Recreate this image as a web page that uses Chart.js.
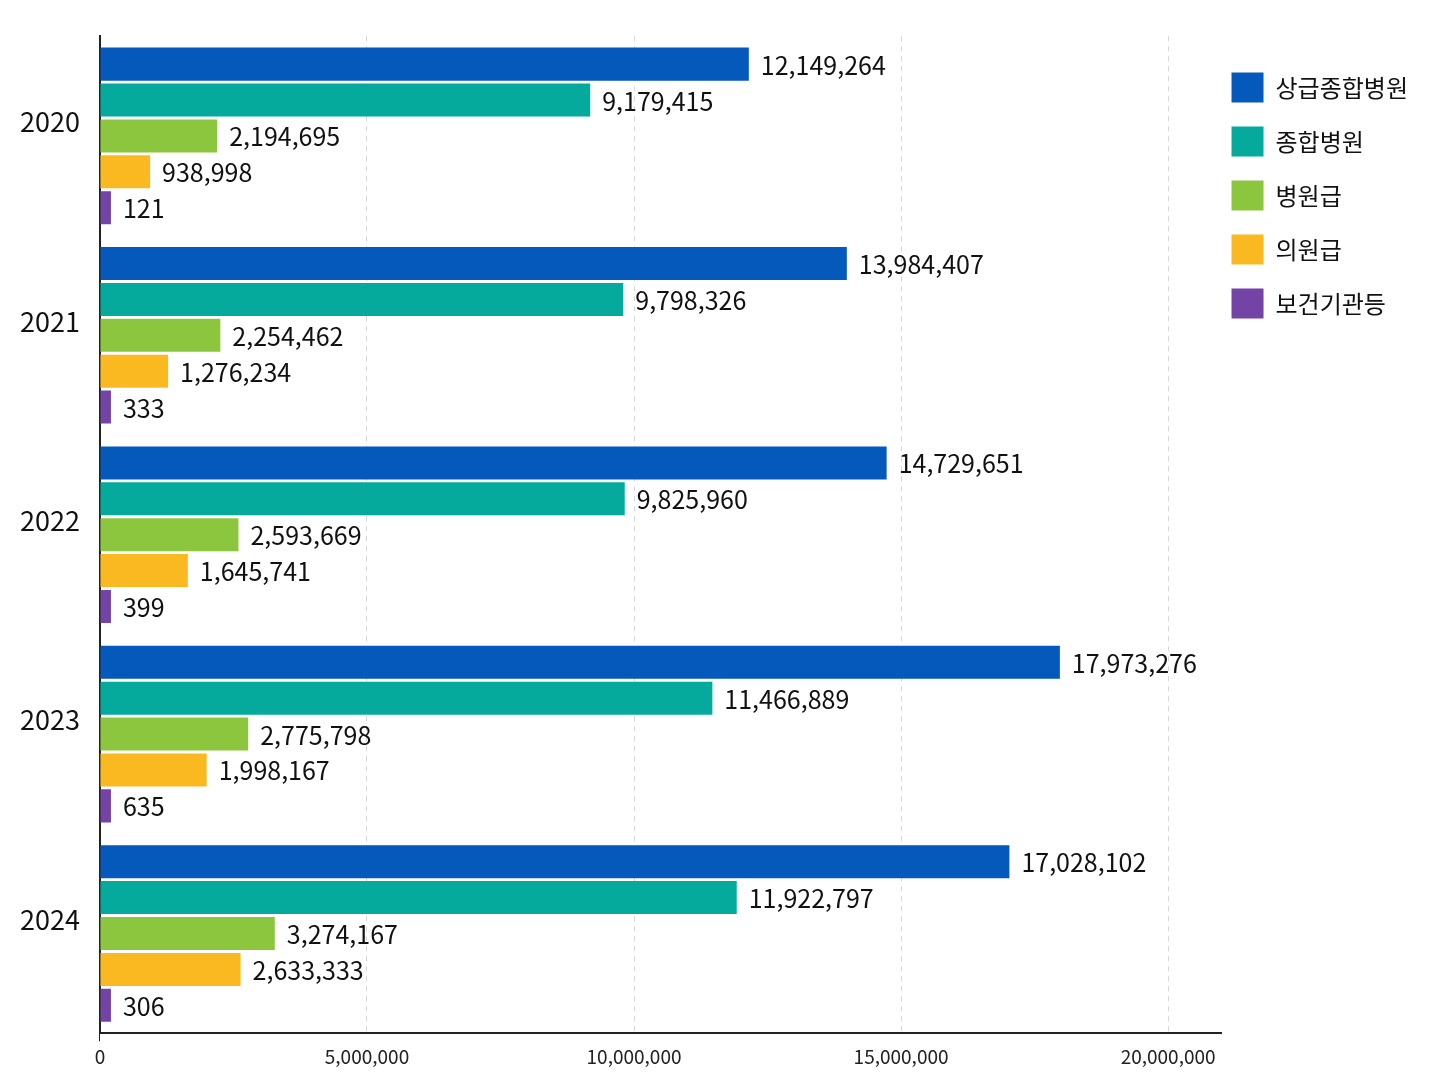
<!doctype html>
<html lang="ko">
  <head>
    <meta charset="utf-8">
    <title>연도별 종별 진료 현황</title>
    <style>
      * { margin: 0; padding: 0; }
      body { background: #fff; }
      .chartBox { width: 1448px; height: 1086px; }
    </style>
  </head>
  <body>
    <div class="chartBox">
      <canvas id="myChart"></canvas>
    </div>
    <script src="https://cdn.jsdelivr.net/npm/chart.js/dist/chart.umd.min.js"></script>
    <script>
// data
const years = ['2020', '2021', '2022', '2023', '2024'];
const seriesNames = ['상급종합병원', '종합병원', '병원급', '의원급', '보건기관등'];
const tertiary = [12149264, 13984407, 14729651, 17973276, 17028102];
const general = [9179415, 9798326, 9825960, 11466889, 11922797];
const hospital = [2194695, 2254462, 2593669, 2775798, 3274167];
const clinic = [938998, 1276234, 1645741, 1998167, 2633333];
const publicHealth = [121, 333, 399, 635, 306];
const xTicks = [0, 5000000, 10000000, 15000000, 20000000];

const colors = ['#0559ba', '#05aa9d', '#8cc63f', '#fbb921', '#7343a6'];
const fontFamily = '"Noto Sans CJK KR", "Noto Sans", sans-serif';

// value labels at the end of each bar
const barLabels = {
  id: 'barLabels',
  afterDatasetsDraw(chart) {
    const ctx = chart.ctx;
    ctx.save();
    ctx.font = '25px ' + fontFamily;
    ctx.fillStyle = '#111';
    ctx.textAlign = 'left';
    ctx.textBaseline = 'middle';
    chart.data.datasets.forEach((ds, i) => {
      chart.getDatasetMeta(i).data.forEach((bar, j) => {
        ctx.fillText(ds.data[j].toLocaleString('en-US'), bar.x + 12, bar.y + 1);
      });
    });
    ctx.restore();
  }
};

// pull the legend a little closer to the plot
const legendShift = {
  id: 'legendShift',
  afterLayout(chart) {
    if (chart.legend) {
      chart.legend.left -= 14;
      chart.legend.right -= 14;
    }
  }
};

const allSeries = [tertiary, general, hospital, clinic, publicHealth];

const config = {
  type: 'bar',
  data: {
    labels: years,
    datasets: allSeries.map((values, i) => ({
      label: seriesNames[i],
      data: values,
      backgroundColor: colors[i],
      categoryPercentage: 0.9,
      barPercentage: 0.92,
      minBarLength: 11
    }))
  },
  options: {
    indexAxis: 'y',
    responsive: false,
    animation: false,
    layout: { padding: { top: 30, left: 0, right: 16, bottom: 14 } },
    scales: {
      x: {
        min: 0,
        max: 21000000,
        afterBuildTicks(axis) {
          axis.ticks = xTicks.map(v => ({ value: v }));
        },
        grid: {
          color: c => c.index === 0 ? 'rgba(0,0,0,0)' : '#d6d6d6',
          tickLength: 8,
          tickColor: c => c.index === 0 ? '#222' : 'rgba(0,0,0,0)'
        },
        border: { color: '#222', width: 2, dash: [5, 5] },
        ticks: {
          color: '#222',
          padding: 4,
          font: { family: fontFamily, size: 19 },
          callback: v => v.toLocaleString('en-US')
        }
      },
      y: {
        grid: { display: false, tickLength: 0 },
        border: { color: '#222', width: 2 },
        ticks: {
          color: '#111',
          padding: 20,
          labelOffset: -14,
          font: { family: fontFamily, size: 27 }
        }
      }
    },
    plugins: {
      legend: {
        position: 'right',
        align: 'start',
        title: { display: true, text: ' ', padding: 2, font: { size: 12 } },
        labels: {
          boxWidth: 32,
          boxHeight: 30,
          padding: 24,
          color: '#111',
          font: { family: fontFamily, size: 24 }
        }
      },
      tooltip: { enabled: false }
    }
  },
  plugins: [barLabels, legendShift]
};

const canvas = document.getElementById('myChart');
canvas.width = 1448;
canvas.height = 1086;
const myChart = new Chart(canvas, config);
    </script>
  </body>
</html>
